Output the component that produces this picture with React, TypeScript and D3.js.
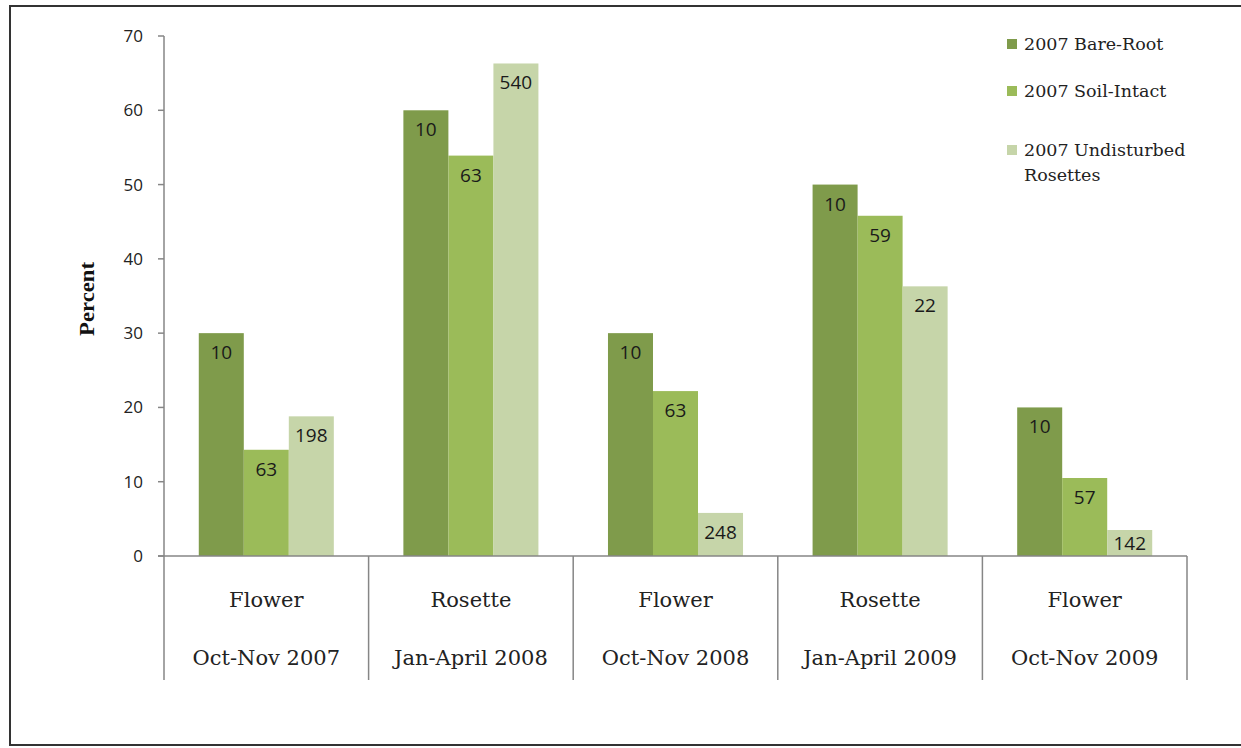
import React from "react";
import * as d3 from "d3";

const categories = ["Flower|Oct-Nov 2007", "Rosette|Jan-April 2008", "Flower|Oct-Nov 2008", "Rosette|Jan-April 2009", "Flower|Oct-Nov 2009"];
const seriesNames = ["2007 Bare-Root", "2007 Soil-Intact", "2007 Undisturbed Rosettes"];
const bareRoot = [30, 60, 30, 50, 20];
const soilIntact = [14.3, 53.9, 22.2, 45.8, 10.5];
const undisturbed = [18.8, 66.3, 5.8, 36.3, 3.5];
const barLabels = [
  ["10", "10", "10", "10", "10"],
  ["63", "63", "63", "59", "57"],
  ["198", "540", "248", "22", "142"],
];
const yTicks = [0, 10, 20, 30, 40, 50, 60, 70];
const colors = ["#7f9b4b", "#9bbb59", "#c6d5a9"];

const W = 1241, H = 748;
const left = 164, right = 1187, top = 36, bottom = 556;

export default function App() {
  const series = [bareRoot, soilIntact, undisturbed];
  const x0 = d3.scaleBand<string>().domain(categories).range([left, right]).paddingInner(0).paddingOuter(0);
  const step = x0.bandwidth();
  const groupPad = 0.17;
  const x1 = d3.scaleBand<number>().domain([0, 1, 2]).range([step * groupPad, step * (1 - groupPad)]).padding(0);
  const y = d3.scaleLinear().domain([0, 70]).range([bottom, top]);
  const serif = "'DejaVu Serif', 'Liberation Serif', serif";
  const tserif = "'Liberation Serif', 'DejaVu Serif', serif";
  const sans = "'Open Sans', 'Liberation Sans', sans-serif";
  const divBottom = 680;

  return (
    <svg width={W} height={H} style={{ position: "absolute", left: 0, top: 0, background: "#fff" }}>
      <rect x={10} y={6} width={W + 10} height={739} fill="#fff" stroke="#333" strokeWidth={2} />
      {/* y axis */}
      <line x1={left} x2={left} y1={top} y2={bottom} stroke="#868686" strokeWidth={1.5} />
      {yTicks.map((t) => (
        <g key={t}>
          <line x1={left - 6} x2={left} y1={y(t)} y2={y(t)} stroke="#868686" strokeWidth={1.5} />
          <text x={143} y={y(t)} dy="0.35em" textAnchor="end" fontFamily={sans} fontSize={17} fill="#222">{t}</text>
        </g>
      ))}
      <text transform={`translate(94,${(top + bottom) / 2 + 3}) rotate(-90)`} textAnchor="middle" fontFamily={tserif} fontWeight="bold" fontSize={21} textLength={74} lengthAdjust="spacingAndGlyphs" fill="#111">Percent</text>
      {/* bars */}
      {categories.map((c, ci) => (
        <g key={c} transform={`translate(${x0(c)},0)`}>
          {series.map((s, si) => (
            <g key={si}>
              <rect x={x1(si)} y={y(s[ci])} width={x1.bandwidth()} height={bottom - y(s[ci])} fill={colors[si]} />
              <text x={(x1(si) as number) + x1.bandwidth() / 2} y={Math.min(y(s[ci]) + 26, bottom - 6)} textAnchor="middle" fontFamily={sans} fontSize={19} fill="#1a1a1a">{barLabels[si][ci]}</text>
            </g>
          ))}
        </g>
      ))}
      {/* x axis */}
      <line x1={left - 6} x2={right} y1={bottom} y2={bottom} stroke="#868686" strokeWidth={1.5} />
      {d3.range(categories.length + 1).map((i) => (
        <line key={i} x1={left + i * step} x2={left + i * step} y1={bottom} y2={divBottom} stroke="#868686" strokeWidth={1.5} />
      ))}
      {categories.map((c) => {
        const [a, b] = c.split("|");
        const cx = (x0(c) as number) + step / 2;
        return (
          <g key={c + "lab"}>
            <text x={cx} y={607} textAnchor="middle" fontFamily={serif} fontSize={21} fill="#222">{a}</text>
            <text x={cx} y={665} textAnchor="middle" fontFamily={serif} fontSize={21} fill="#222">{b}</text>
          </g>
        );
      })}
      {/* legend */}
      {seriesNames.map((n, i) => {
        const ly = [44, 91, 150][i];
        const words = i === 2 ? ["2007 Undisturbed", "Rosettes"] : [n];
        return (
          <g key={n}>
            <rect x={1007} y={ly - 5} width={10} height={10} fill={colors[i]} />
            {words.map((w, wi) => (
              <text key={w} x={1024} y={ly + wi * 25} dy="0.35em" fontFamily={serif} fontSize={17.5} fill="#222">{w}</text>
            ))}
          </g>
        );
      })}
    </svg>
  );
}
